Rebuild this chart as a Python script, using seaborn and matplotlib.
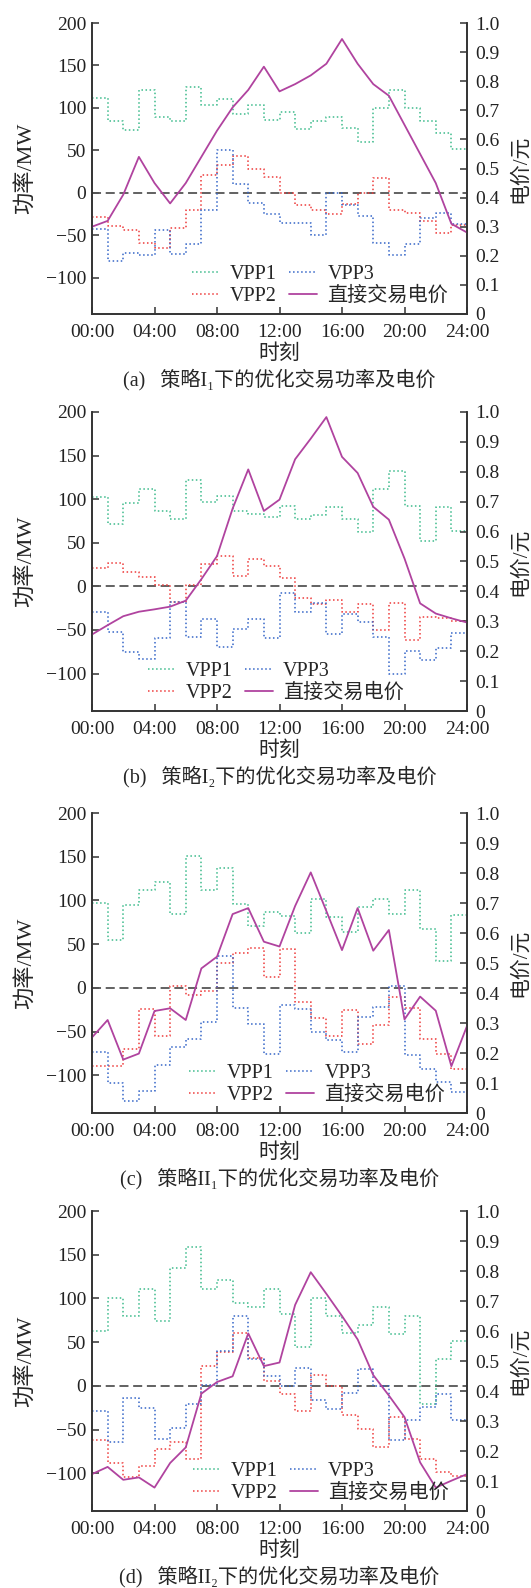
import numpy as np
import seaborn as sns
import matplotlib.pyplot as plt

hours = np.arange(25)
tick_hours = [0, 4, 8, 12, 16, 20, 24]
tick_labels = ['00:00', '04:00', '08:00', '12:00', '16:00', '20:00', '24:00']
power_ticks = [-100, -50, 0, 50, 100, 150, 200]
price_ticks = [0, 0.1, 0.2, 0.3, 0.4, 0.5, 0.6, 0.7, 0.8, 0.9, 1.0]
price_tick_labels = ['0', '0.1', '0.2', '0.3', '0.4', '0.5', '0.6', '0.7', '0.8', '0.9', '1.0']
series_names = ['VPP1', 'VPP2', 'VPP3']
price_name = '直接交易电价'

captions = ['(a)   策略I₁下的优化交易功率及电价',
            '(b)   策略I₂下的优化交易功率及电价',
            '(c)   策略II₁下的优化交易功率及电价',
            '(d)   策略II₂下的优化交易功率及电价']

# hourly power (MW), one value per hour 0..23
vpp1_a = [112, 84, 74, 121, 89, 85, 125, 103, 110, 93, 103, 86, 95, 75, 84, 89, 76, 60, 100, 121, 100, 84, 70, 52]
vpp2_a = [-29, -39, -44, -59, -65, -42, -20, 21, 33, 43, 28, 19, 0, -15, -20, -25, -13, 0, 17, -21, -24, -33, -48, -38]
vpp3_a = [-43, -81, -71, -73, -44, -72, -60, -20, 50, 10, -12, -25, -36, -36, -50, 0, -15, -28, -59, -73, -61, -30, -24, -37]
price_a = [0.30, 0.32, 0.41, 0.54, 0.45, 0.38, 0.45, 0.54, 0.63, 0.71, 0.77, 0.85, 0.765, 0.79, 0.82, 0.86,
           0.945, 0.86, 0.79, 0.75, 0.65, 0.55, 0.45, 0.31, 0.28]

vpp1_b = [102, 72, 96, 112, 86, 77, 122, 97, 104, 86, 83, 79, 92, 77, 82, 91, 77, 62, 112, 132, 92, 52, 91, 64]
vpp2_b = [21, 27, 16, 11, 1, -18, 2, 26, 35, 12, 31, 23, 10, -13, -20, -16, -29, -20, -50, -19, -62, -35, -36, -40]
vpp3_b = [-29, -52, -75, -83, -59, -18, -58, -38, -70, -49, -38, -59, -8, -29, -19, -55, -32, -41, -58, -101, -74, -84, -71, -54]
price_b = [0.256, 0.287, 0.317, 0.332, 0.340, 0.349, 0.369, 0.441, 0.518, 0.677, 0.808, 0.669, 0.707, 0.842,
           0.911, 0.983, 0.850, 0.796, 0.683, 0.640, 0.510, 0.360, 0.326, 0.310, 0.296]

vpp1_c = [97, 55, 95, 112, 121, 85, 151, 112, 137, 96, 71, 87, 82, 63, 102, 81, 64, 92, 102, 85, 112, 67, 31, 83]
vpp2_c = [-89, -89, -70, -24, -55, 2, -8, -4, 29, 40, 46, 13, 44, -16, -34, -55, -25, -64, -42, -10, -23, -58, -75, -93]
vpp3_c = [-73, -109, -129, -118, -88, -68, -58, -39, 37, -23, -41, -76, -19, -24, -50, -60, -73, -33, -22, 2, -77, -93, -108, -119]
price_c = [0.252, 0.310, 0.178, 0.198, 0.340, 0.349, 0.310, 0.482, 0.521, 0.663, 0.683, 0.571, 0.555, 0.690,
           0.802, 0.673, 0.543, 0.683, 0.541, 0.610, 0.312, 0.388, 0.341, 0.156, 0.290]

vpp1_d = [63, 101, 80, 111, 74, 135, 159, 111, 121, 95, 90, 111, 82, 45, 100, 80, 60, 70, 90, 59, 80, -21, 31, 51]
vpp2_d = [-62, -88, -104, -91, -72, -64, -83, 23, 39, 61, 32, 6, -9, -29, 13, 0, -33, -49, -70, -35, -61, -84, -98, -103]
vpp3_d = [-29, -64, -14, -25, -61, -48, -21, 1, 40, 80, 31, 11, 0, 20, -16, -26, -8, 19, 0, -62, -39, -24, -9, -39]
price_d = [0.123, 0.147, 0.104, 0.112, 0.078, 0.160, 0.212, 0.391, 0.430, 0.449, 0.592, 0.483, 0.495, 0.687,
           0.796, 0.724, 0.650, 0.572, 0.453, 0.385, 0.313, 0.162, 0.078, 0.101, 0.123]

panels = [
    ([vpp1_a, vpp2_a, vpp3_a], price_a),
    ([vpp1_b, vpp2_b, vpp3_b], price_b),
    ([vpp1_c, vpp2_c, vpp3_c], price_c),
    ([vpp1_d, vpp2_d, vpp3_d], price_d),
]

colors = ['#3dbb8c', '#ee3b3b', '#3566c8']
price_color = '#b0439f'

sns.set_style('ticks')
plt.rcParams['font.family'] = ['Liberation Serif', 'Noto Sans CJK SC', 'DejaVu Sans']
plt.rcParams['axes.unicode_minus'] = True

W, H = 531, 1588
fig = plt.figure(figsize=(W / 100, H / 100), dpi=100)

# axes boxes in pixels: (top, bottom)
boxes = [(23, 314), (412, 711), (813, 1113), (1211, 1511)]
legend_x = [0.608, 0.49, 0.60, 0.61]
left_px, right_px = 92, 467

for i, ((vpps, price), (top, bot)) in enumerate(zip(panels, boxes)):
    ax = fig.add_axes([left_px / W, 1 - bot / H, (right_px - left_px) / W, (bot - top) / H])
    ax.axhline(0, color='#555555', lw=1.3, ls=(0, (5, 2.6)), zorder=1)
    for name, vals, c in zip(series_names, vpps, colors):
        y = np.append(vals, vals[-1])
        sns.lineplot(x=hours, y=y, ax=ax, drawstyle='steps-post', color=c,
                     linestyle=':', lw=1.1, label=name, legend=False)
    ax.set_xlim(0, 24)
    ax.set_ylim(-143, 200)
    ax.set_xticks(tick_hours)
    ax.set_xticklabels(tick_labels)
    ax.set_yticks(power_ticks)
    ax.set_xlabel('')
    ax.set_ylabel('')

    ax2 = ax.twinx()
    sns.lineplot(x=hours, y=price, ax=ax2, color=price_color, lw=1.3,
                 label=price_name, legend=False)
    ax2.set_ylim(0, 1)
    ax2.set_yticks(price_ticks)
    ax2.set_yticklabels(price_tick_labels)
    ax2.set_ylabel('')

    for a in (ax, ax2):
        for s in a.spines.values():
            s.set_color('#333333')
            s.set_linewidth(1.2)
        a.spines['top'].set_visible(False)
        a.tick_params(direction='in', length=5, width=1.1, color='#333333',
                      labelsize=14, labelcolor='#222222', pad=4)
    ax.tick_params(axis='x', pad=7)
    ax2.tick_params(axis='y', pad=6)

    h1, l1 = ax.get_legend_handles_labels()
    h2, l2 = ax2.get_legend_handles_labels()
    ax2.legend(h1 + h2, l1 + l2, ncol=2, loc='lower center',
               bbox_to_anchor=(legend_x[i], 0.0), frameon=False,
               fontsize=14.5, handlelength=1.4, handletextpad=0.5,
               columnspacing=0.6, labelspacing=0.15, borderaxespad=0.2,
               borderpad=0.2)

    fig.text(279.5 / W, 1 - (bot + 40) / H, '时刻', ha='center', va='center', fontsize=15)
    fig.text(279.5 / W, 1 - (bot + 66) / H, captions[i], ha='center', va='center', fontsize=14.5)
    cy = 1 - ((top + bot) / 2) / H
    fig.text(25 / W, cy, '功率/MW', rotation=90, ha='center', va='center', fontsize=16)
    fig.text(520 / W, cy, '电价/元', rotation=90, ha='center', va='center', fontsize=15)

fig.savefig('out.png', dpi=100)
